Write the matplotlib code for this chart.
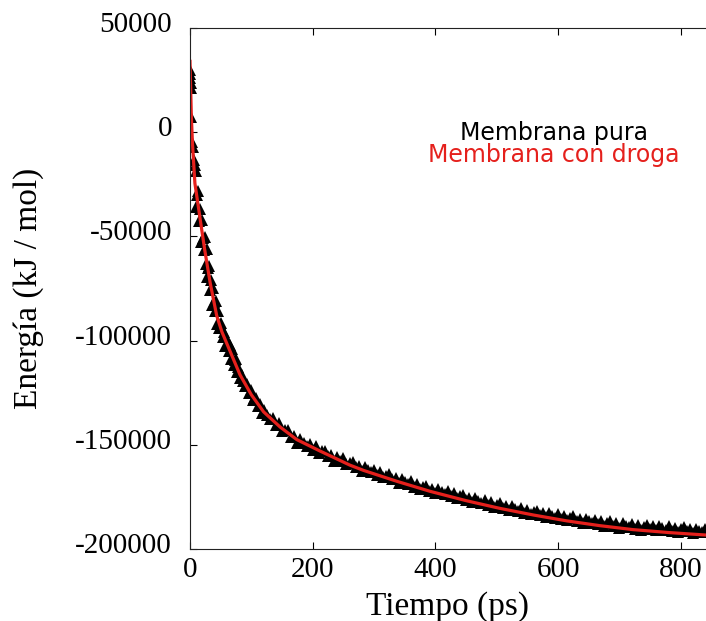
#%%
########################################
# ! 1_Importing the necessary libraries
########################################
import matplotlib
matplotlib.use("Agg")
import matplotlib.pyplot as plt
import matplotlib.transforms as mtransforms
import numpy as np

# %%
# ===============================================================
# ! 2_Data (kJ/mol vs ps)
# ===============================================================

# Membrana pura (black triangles)
t_pura = [0.0, 0.3, 0.6, 0.9, 1.2, 1.8, 2.6, 4.5, 6.0, 7.5,
          9, 10.5, 12, 13.5, 15, 16.5, 18, 19.5, 21, 22.5, 24, 25.5, 27, 28.5, 30,
          31.5, 33, 34.5, 36, 37.5, 39, 40.5, 42, 43.5,
          45, 47, 49, 51, 53, 55, 57, 59, 61, 63, 65, 67, 69, 71, 73, 75, 77, 79,
          81, 84, 87, 90, 93, 96, 99, 102, 105, 108, 111, 114, 117,
          120, 125, 130, 135, 140, 145, 150, 155, 160, 165, 170, 175, 180, 185, 190,
          195, 200, 205, 210, 215, 220, 225, 230, 235, 240, 245,
          250, 255, 260, 265, 270, 275, 280, 285, 290, 295, 300, 305, 310, 315, 320,
          325, 330, 335, 340, 345, 350, 355, 360, 365, 370, 375, 380, 385, 390, 395,
          400, 405, 410, 415, 420, 425, 430, 435, 440, 445, 450, 455, 460, 465, 470,
          475, 480, 485, 490, 495, 500, 505, 510, 515, 520, 525, 530, 535, 540, 545,
          550, 555, 560, 565, 570, 575, 580, 585, 590, 595, 600, 605, 610, 615, 620,
          625, 630, 635, 640, 645, 650, 655, 660, 665, 670, 675, 680, 685, 690, 695,
          700, 705, 710, 715, 720, 725, 730, 735, 740, 745, 750, 755, 760, 765, 770,
          775, 780, 785, 790, 795, 800, 805, 810, 815, 820, 825, 830, 835, 840]
E_pura = [29800, 27900, 26000, 23600, 21200, 7300, -4700, -7100, -13300, -15700,
          -18510, -35930, -30150, -28370, -42590, -36790, -52580, -41960, -50540,
          -56720, -50100, -63370, -55830, -69300, -65370,
          -64430, -75500, -71110, -82930, -74940, -81360, -85970, -80990, -92200,
          -85880, -94010, -92000, -91730, -98250, -95800, -102800, -98250, -102100,
          -104900, -102090, -108730, -104180, -111870, -109420, -108710, -115010,
          -112560,
          -118050, -116300, -119260, -121610, -120770, -125330, -123480, -128420,
          -127450, -127480, -131510, -130540, -134970,
          -133220, -135550, -137460, -137140, -140590, -139560, -143290, -142860,
          -143130, -146200, -145770, -149050, -147390, -149100, -150390,
          -149430, -152260, -150610, -153850, -153000, -152850, -155500, -154660,
          -157600, -155910, -157590,
          -156570, -159260, -158560, -158160, -160630, -159990, -162360, -160690,
          -162170, -163160, -161940, -164520, -163200, -165680, -164760,
          -164250, -166630, -165910, -168170, -166410, -167860, -168800, -167540,
          -170090, -168730, -171180, -170220, -169670, -172010, -171210,
          -173090, -171270, -172650, -173530, -172210, -174690, -173280, -175660,
          -174640, -174020, -176300, -175440, -177570, -175710, -177050,
          -177880, -176520, -178950, -177490, -179830, -178760, -178100, -180290,
          -179380, -181470, -179560, -180850, -181650, -180240, -182630,
          -181120, -183410, -182300, -181560, -183720, -182770, -184840, -182890,
          -184160, -184910, -183170, -185530, -183990, -186240, -185060,
          -184270, -186380, -185390, -187410, -185420, -186630, -187350, -185860,
          -188170, -186570, -188750, -187520, -186700, -188770, -187750,
          -189730, -187700, -188880, -189550, -188030, -190270, -188590, -190710,
          -189430, -188560, -190280, -189200, -191120, -189040, -190160,
          -190780, -189200, -191400, -189700, -191800, -190490, -189590, -191590,
          -190490, -192390, -190290, -191380, -191980, -190380]

# Membrana con droga (red line)
t_droga = [0, 2.2, 4, 8, 16, 24, 33, 43.5, 52, 62, 81.5, 100, 120, 147, 174, 212, 261,
           283, 337, 391, 450, 505, 560, 614, 668, 722, 780, 841]
E_droga = [34000, 7400, -5300, -24500, -40600, -56500, -72500, -88000, -95800, -102800,
           -116400, -126000, -134200, -141500, -147500, -153000, -159800, -162300,
           -167500, -172300, -176800, -180500, -183700, -186500, -188800, -190700,
           -192100, -193300]

x_ticks = [0, 200, 400, 600, 800]
y_ticks = [50000, 0, -50000, -100000, -150000, -200000]
legend_labels = ["Membrana pura", "Membrana con droga"]

# %%
# ===============================================================
# ! 3_Plotting
# ===============================================================
red = "#e5201c"
serif = "Liberation Serif"

fig = plt.figure(figsize=(7.06, 6.21), dpi=100)
ax = fig.add_axes([190 / 706, 72 / 621, 516 / 706, 521 / 621])

ax.plot(t_pura, E_pura, linestyle="none", marker="^", markersize=8.5,
        color="black", markeredgewidth=0)
ax.plot(t_droga, E_droga, color=red, linewidth=2.3)

ax.set_xlim(0, 841)
ax.set_ylim(-200000, 50000)
ax.set_xticks(x_ticks)
ax.set_yticks(y_ticks)
ax.set_xticklabels([str(v) for v in x_ticks], fontfamily=serif, fontsize=21)
ax.set_yticklabels([str(v) for v in y_ticks], fontfamily=serif, fontsize=21)

ax.tick_params(axis="x", direction="in", top=True, length=5, width=0.8, pad=6)
ax.tick_params(axis="y", direction="in", right=False, length=5, width=0.8, pad=13)

# gnuplot puts the y labels a few pixels above the tick
shift = mtransforms.ScaledTranslation(0, 6 / 100, fig.dpi_scale_trans)
for lab in ax.get_yticklabels():
    lab.set_transform(lab.get_transform() + shift)

ax.spines["right"].set_visible(False)
for s in ["left", "bottom", "top"]:
    ax.spines[s].set_linewidth(0.8)
    ax.spines[s].set_color("#222222")

ax.set_xlabel("Tiempo (ps)", fontfamily=serif, fontsize=24, va="center")
ax.xaxis.set_label_coords(0.5, -0.11)
ax.set_ylabel("Energía (kJ / mol)", fontfamily=serif, fontsize=24, va="center")
ax.yaxis.set_label_coords(-0.312, 0.5)

# key text only (no samples), centered
ax.text(0.705, 0.798, legend_labels[0], transform=ax.transAxes, ha="center", va="center",
        fontfamily="DejaVu Sans", fontsize=17, color="black")
ax.text(0.705, 0.756, legend_labels[1], transform=ax.transAxes, ha="center", va="center",
        fontfamily="DejaVu Sans", fontsize=17, color=red)

fig.savefig("out.png", dpi=100)

print("Done!")
